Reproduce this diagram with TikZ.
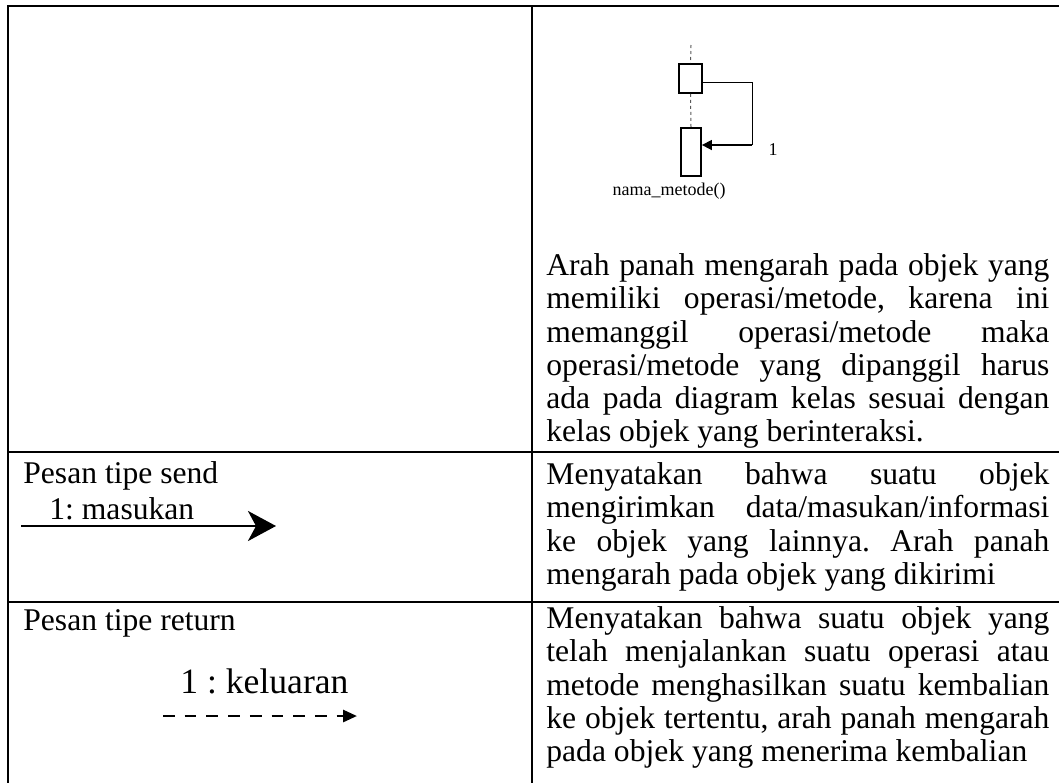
\documentclass[tikz,border=0pt]{standalone}
\usepackage{fontspec}
\setmainfont{Liberation Serif}
\usetikzlibrary{arrows.meta}
\frenchspacing
\begin{document}
\begin{tikzpicture}[x=0.5pt,y=-0.5pt,
  grid/.style={line width=1pt, black},
  desc/.style={anchor=north west, text width=251.5pt, align=justify, inner sep=0pt, font=\fontsize{15.8}{16.65}\selectfont},
  lbl/.style={anchor=base west, inner sep=0pt, font=\fontsize{15.8}{16.65}\selectfont},
  biglbl/.style={anchor=base west, inner sep=0pt, font=\fontsize{17.8}{19}\selectfont},
  act/.style={draw, line width=0.9pt, inner sep=0pt, fill=white},
  life/.style={draw=gray!70!black, line width=0.5pt, dash pattern=on 1.5pt off 1.5pt},
  small/.style={font=\fontsize{9}{10}\selectfont, inner sep=0pt}
]
\useasboundingbox (0,0) rectangle (1059,783);

% table rules
\draw[grid] (1059,6) -- (8,6) -- (8,783);
\draw[grid] (532,6) -- (532,783);
\draw[grid] (8,452) -- (1059,452);
\draw[grid] (8,602) -- (1059,602);

% row 1: self message figure
\coordinate (l0) at (691,45);
\node[act, minimum width=11.5pt, minimum height=14.5pt] (a1) at (690.5,78.5) {};
\node[act, minimum width=10pt, minimum height=24pt] (a2) at (691,152) {};
\draw[life] (l0) -- (a1.north);
\draw[life] (a1.south) -- (a2.north);
\coordinate (t1) at (752,82);
\coordinate (t2) at (752,145);
\draw[line width=0.5pt] (a1.east |- t1) -- (t1) -- (t2);
\draw[line width=0.8pt, -{Triangle[length=5pt,width=5pt]}] (t2) -- (a2.east |- t2);
\node[small] (one) at (773,150) {1};
\node[small] (nm) at (669,191) {nama\_metode()};

\node[desc] (d1) at (546,251) {\noindent\rule{0pt}{12pt}Arah panah mengarah pada objek yang\linebreak
memiliki operasi/metode, karena ini\linebreak
memanggil operasi/metode maka\linebreak
operasi/metode yang dipanggil harus\linebreak
ada pada diagram kelas sesuai dengan\linebreak
kelas objek yang berinteraksi.};

% row 2: send
\node[lbl] (send) at (23,483) {Pesan tipe send};
\node[lbl] (masuk) at (49,519) {1: masukan};
\coordinate (s1) at (21,526);
\coordinate (s2) at (276,526);
\draw[line width=1.4pt, -{Stealth[length=14pt,width=15pt,inset=4pt]}] (s1) -- (s2);
\node[desc] (d2) at (546,460) {\noindent\rule{0pt}{12pt}Menyatakan bahwa suatu objek\linebreak
mengirimkan data/masukan/informasi\linebreak
ke objek yang lainnya. Arah panah\linebreak
mengarah pada objek yang dikirimi};

% row 3: return
\node[lbl] (ret) at (23,630) {Pesan tipe return};
\node[biglbl] (kel) at (180,693) {1 : keluaran};
\coordinate (r1) at (163,716);
\coordinate (r2) at (357,716);
\draw[line width=1.4pt, dash pattern=on 5.85pt off 5pt, -{Triangle[length=7pt,width=6pt]}] (r1) -- (r2);
\node[desc] (d3) at (546,604) {\noindent\rule{0pt}{12pt}Menyatakan bahwa suatu objek yang\linebreak
telah menjalankan suatu operasi atau\linebreak
metode menghasilkan suatu kembalian\linebreak
ke objek tertentu, arah panah mengarah\linebreak
pada objek yang menerima kembalian};
\end{tikzpicture}
\end{document}
